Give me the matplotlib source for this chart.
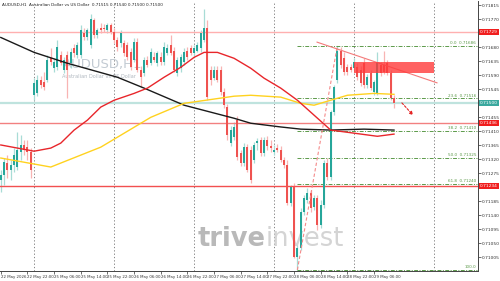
import numpy as np
import matplotlib.pyplot as plt
import matplotlib.transforms as mtransforms

# H1 candles, AUDUSD 22 May 14:00 -> 29 May 12:00
opens = [0.71253, 0.71269, 0.71308, 0.71285, 0.71301, 0.71295, 0.71343, 0.71366, 0.71359, 0.71343,
         0.71526, 0.71532, 0.71574, 0.71568, 0.71574, 0.71645, 0.71613, 0.71616, 0.71654, 0.71606,
         0.71654, 0.71629, 0.71677, 0.71654, 0.71654, 0.71728, 0.71712, 0.71687, 0.71767, 0.71719,
         0.71744, 0.71744, 0.71735, 0.71751, 0.71731, 0.71703, 0.71693, 0.71693, 0.71687, 0.71664,
         0.71638, 0.71696, 0.71606, 0.71597, 0.71638, 0.71629, 0.71648, 0.71629, 0.71648, 0.71632,
         0.71661, 0.71687, 0.71670, 0.71597, 0.71613, 0.71632, 0.71670, 0.71677, 0.71661, 0.71670,
         0.71677, 0.71703, 0.71744, 0.71606, 0.71581, 0.71606, 0.71606, 0.71536, 0.71488, 0.71372,
         0.71391, 0.71446, 0.71340, 0.71308, 0.71359, 0.71349, 0.71317, 0.71372, 0.71382, 0.71340,
         0.71382, 0.71362, 0.71343, 0.71356, 0.71349, 0.71317, 0.71301, 0.71179, 0.71231, 0.71006,
         0.71035, 0.71150, 0.71189, 0.71211, 0.71167, 0.71195, 0.71109, 0.71173, 0.71308, 0.71263,
         0.71471, 0.71574, 0.71670, 0.71645, 0.71616, 0.71616, 0.71613, 0.71616, 0.71606, 0.71629,
         0.71558, 0.71597, 0.71536, 0.71532, 0.71622, 0.71622, 0.71629, 0.71597, 0.71516]
highs = [0.71285, 0.71324, 0.71333, 0.71317, 0.71356, 0.71407, 0.71398, 0.71382, 0.71382, 0.71356,
         0.71581, 0.71590, 0.71587, 0.71600, 0.71654, 0.71677, 0.71645, 0.71703, 0.71670, 0.71648,
         0.71670, 0.71677, 0.71690, 0.71696, 0.71751, 0.71741, 0.71744, 0.71786, 0.71776, 0.71741,
         0.71760, 0.71754, 0.71757, 0.71760, 0.71741, 0.71712, 0.71735, 0.71703, 0.71696, 0.71677,
         0.71709, 0.71709, 0.71619, 0.71648, 0.71651, 0.71677, 0.71664, 0.71670, 0.71664, 0.71696,
         0.71690, 0.71719, 0.71680, 0.71648, 0.71658, 0.71677, 0.71680, 0.71687, 0.71687, 0.71696,
         0.71735, 0.71805, 0.71767, 0.71619, 0.71619, 0.71619, 0.71619, 0.71549, 0.71497, 0.71427,
         0.71439, 0.71459, 0.71349, 0.71372, 0.71369, 0.71362, 0.71375, 0.71388, 0.71391, 0.71391,
         0.71394, 0.71382, 0.71366, 0.71369, 0.71362, 0.71327, 0.71317, 0.71237, 0.71244, 0.71045,
         0.71163, 0.71205, 0.71228, 0.71221, 0.71205, 0.71205, 0.71189, 0.71317, 0.71324, 0.71478,
         0.71558, 0.71686, 0.71680, 0.71664, 0.71626, 0.71626, 0.71645, 0.71629, 0.71619, 0.71645,
         0.71593, 0.71606, 0.71574, 0.71664, 0.71632, 0.71670, 0.71638, 0.71606, 0.71526]
lows = [0.71215, 0.71237, 0.71260, 0.71253, 0.71279, 0.71285, 0.71317, 0.71333, 0.71317, 0.71260,
        0.71510, 0.71523, 0.71549, 0.71542, 0.71568, 0.71622, 0.71600, 0.71606, 0.71622, 0.71597,
        0.71516, 0.71613, 0.71648, 0.71645, 0.71645, 0.71703, 0.71703, 0.71677, 0.71709, 0.71709,
        0.71728, 0.71731, 0.71725, 0.71722, 0.71693, 0.71670, 0.71680, 0.71651, 0.71638, 0.71606,
        0.71632, 0.71600, 0.71552, 0.71587, 0.71616, 0.71622, 0.71632, 0.71619, 0.71622, 0.71622,
        0.71654, 0.71654, 0.71600, 0.71587, 0.71600, 0.71622, 0.71638, 0.71654, 0.71651, 0.71664,
        0.71664, 0.71696, 0.71510, 0.71558, 0.71574, 0.71568, 0.71526, 0.71484, 0.71382, 0.71362,
        0.71382, 0.71317, 0.71298, 0.71298, 0.71279, 0.71244, 0.71308, 0.71349, 0.71330, 0.71330,
        0.71349, 0.71343, 0.71333, 0.71343, 0.71311, 0.71292, 0.71173, 0.71170, 0.71003, 0.70964,
        0.71028, 0.71141, 0.71179, 0.71150, 0.71157, 0.71093, 0.71099, 0.71163, 0.71253, 0.71253,
        0.71462, 0.71565, 0.71613, 0.71590, 0.71590, 0.71600, 0.71606, 0.71574, 0.71555, 0.71549,
        0.71549, 0.71542, 0.71526, 0.71526, 0.71587, 0.71593, 0.71590, 0.71510, 0.71484]
closes = [0.71269, 0.71311, 0.71285, 0.71301, 0.71333, 0.71349, 0.71366, 0.71349, 0.71343, 0.71285,
          0.71565, 0.71574, 0.71558, 0.71552, 0.71638, 0.71632, 0.71632, 0.71680, 0.71629, 0.71638,
          0.71606, 0.71664, 0.71661, 0.71687, 0.71735, 0.71712, 0.71735, 0.71773, 0.71719, 0.71735,
          0.71735, 0.71738, 0.71751, 0.71731, 0.71703, 0.71680, 0.71728, 0.71661, 0.71648, 0.71616,
          0.71696, 0.71606, 0.71584, 0.71638, 0.71622, 0.71664, 0.71638, 0.71661, 0.71632, 0.71680,
          0.71677, 0.71661, 0.71606, 0.71638, 0.71648, 0.71664, 0.71648, 0.71661, 0.71677, 0.71687,
          0.71725, 0.71744, 0.71520, 0.71574, 0.71606, 0.71574, 0.71536, 0.71494, 0.71398, 0.71414,
          0.71423, 0.71327, 0.71308, 0.71359, 0.71285, 0.71253, 0.71366, 0.71378, 0.71340, 0.71382,
          0.71362, 0.71356, 0.71349, 0.71349, 0.71317, 0.71301, 0.71179, 0.71231, 0.71006, 0.71035,
          0.71150, 0.71195, 0.71211, 0.71163, 0.71195, 0.71109, 0.71173, 0.71308, 0.71263, 0.71471,
          0.71552, 0.71670, 0.71622, 0.71600, 0.71600, 0.71606, 0.71632, 0.71584, 0.71565, 0.71558,
          0.71584, 0.71549, 0.71568, 0.71629, 0.71597, 0.71600, 0.71597, 0.71516, 0.71500]

# moving averages (bar index, price)
ma_red_idx = [0, 10, 15, 18, 22, 26, 30, 34, 40, 44, 49, 54, 58, 61, 65, 70, 75, 79, 84, 89, 94, 99, 106, 113, 118]
ma_red = [0.71366, 0.71346, 0.71356, 0.71372, 0.71414, 0.71446, 0.71488, 0.71510, 0.71532, 0.71549,
          0.71584, 0.71616, 0.71648, 0.71664, 0.71664, 0.71645, 0.71613, 0.71581, 0.71549, 0.71510,
          0.71462, 0.71414, 0.71404, 0.71394, 0.71401]
ma_yel_idx = [0, 15, 30, 45, 55, 70, 75, 84, 90, 94, 99, 104, 112, 118]
ma_yel = [0.71324, 0.71295, 0.71359, 0.71455, 0.71500, 0.71523, 0.71526, 0.71520, 0.71500, 0.71494,
          0.71510, 0.71526, 0.71532, 0.71529]
ma_blk_idx = [0, 10, 20, 35, 43, 55, 70, 75, 84, 90, 99, 109, 118]
ma_blk = [0.71712, 0.71664, 0.71629, 0.71584, 0.71549, 0.71494, 0.71452, 0.71436, 0.71424, 0.71417,
          0.71414, 0.71417, 0.71414]

# horizontal levels
red_levels = [0.71729, 0.71436, 0.71234]
red_level_colors = ['#ffb0b0', '#f28080', '#f25050']
teal_level = 0.71500

# fibonacci from bar 89 low to bar 101 high
fib_low, fib_high = 0.70964, 0.71686
fib_ratios = [0.0, 23.6, 38.2, 50.0, 61.8, 100.0]

# trend line, zone and arrow
trend_idx = [94.9, 130.9]
trend_px = [0.71697, 0.71566]
zone_idx = (106.1, 130.0)
zone_px = (0.71597, 0.71632)
arrow_idx = (119.8, 124.3)
arrow_px = (0.71508, 0.71455)

time_ticks = [0, 8, 16, 24, 32, 40, 48, 56, 64, 72, 80, 88, 96, 104, 112]
time_labels = ['22 May 2026', '22 May 22:00', '25 May 06:00', '25 May 14:00', '25 May 22:00',
               '26 May 06:00', '26 May 14:00', '26 May 22:00', '27 May 06:00', '27 May 14:00',
               '27 May 22:00', '28 May 06:00', '28 May 14:00', '28 May 22:00', '29 May 06:00']
day_starts = [10, 34, 58, 82, 106, 130]
# the tick labels hidden behind the coloured price boxes are left out
price_ticks = [0.71005, 0.71050, 0.71095, 0.71140, 0.71185, 0.71275, 0.71320, 0.71365,
               0.71410, 0.71455, 0.71545, 0.71590, 0.71635, 0.71680, 0.71770, 0.71815]

UP = '#26a69a'
DOWN = '#ef5350'

fig = plt.figure(figsize=(5, 2.81), dpi=100)
ax = fig.add_axes([0, 1 - 270.5 / 281, 478 / 500, 270 / 281])
ax.set_xlim(-0.24, 143.2)
ax.set_ylim(0.70962, 0.71831)

o = np.array(opens); h = np.array(highs); l = np.array(lows); c = np.array(closes)
x = np.arange(len(o))
up = c >= o
cols = np.where(up, UP, DOWN)
wick_cols = np.where(up, '#a8dcd6', '#f8b4b3')

for d in day_starts:
    ax.axvline(d, color='#707070', lw=0.6, ls=(0, (1.5, 2.5)), zorder=1)

ax.vlines(x, l, h, colors=wick_cols, lw=0.9, zorder=2)
body = np.maximum(np.abs(c - o), 0.000025)
ax.bar(x, body, bottom=np.minimum(o, c), width=0.62, color=cols, lw=0, zorder=3)

ax.plot(ma_blk_idx, ma_blk, color='#1a1a1a', lw=1.0, zorder=4)
ax.plot(ma_yel_idx, ma_yel, color='#ffd21f', lw=1.0, zorder=4)
ax.plot(ma_red_idx, ma_red, color='#e8262b', lw=1.0, zorder=4)

for lv, col in zip(red_levels, red_level_colors):
    ax.axhline(lv, color=col, lw=1.0, zorder=2)
ax.axhline(teal_level, color='#bfe3de', lw=1.6, zorder=2)

# fibonacci
fib_col = '#5c9a4a'
for r in fib_ratios:
    lv = fib_high - (fib_high - fib_low) * r / 100
    ax.plot([89, 142.9], [lv, lv], color=fib_col, lw=0.7, ls=(0, (4, 1.5, 1, 1.5)), zorder=2)
    txt = '%.1f' % r if r == 100.0 else '%.1f  %.5f' % (r, lv)
    ax.text(142.6, lv + 0.00003, txt, fontsize=3.0, color=fib_col, ha='right', va='bottom', zorder=6)
ax.plot([89, 101], [fib_low, fib_high], color='#f48a8a', lw=0.8, ls=(0, (3, 2)), zorder=5)

ax.plot(trend_idx, trend_px, color='#f47a7a', lw=0.8, zorder=5)
ax.add_patch(plt.Rectangle((zone_idx[0], zone_px[0]), zone_idx[1] - zone_idx[0], zone_px[1] - zone_px[0],
                           facecolor='#ff3b3b', alpha=0.8, lw=0, zorder=5))
ax.annotate('', xy=(arrow_idx[1], arrow_px[1]), xytext=(arrow_idx[0], arrow_px[0]),
            arrowprops=dict(arrowstyle='-|>', color='#e52424', lw=0.8, ls=(0, (2, 1.5)),
                            mutation_scale=5), zorder=6)

# watermark
ax.text(18.5, 0.71624, 'AUDUSD,H1', fontsize=9.5, color='#c3cbd3', ha='left', va='center', zorder=1)
ax.text(18.5, 0.71588, 'Australian Dollar vs US Dollar', fontsize=3.6, color='#b0b8c0', ha='left',
        va='center', zorder=1)
ax.text(0.555, 0.115, 'trive', transform=ax.transAxes, fontsize=18.5, color='#b9b9b9', ha='right',
        va='center', fontweight='bold', zorder=1)
ax.text(0.555, 0.115, 'invest', transform=ax.transAxes, fontsize=18.5, color='#d4d4d4', ha='left',
        va='center', zorder=1)

fig.text(0.004, 0.988, 'AUDUSD,H1  Australian Dollar vs US Dollar  0.71515 0.71540 0.71500 0.71500',
         fontsize=3.0, color='#222222', ha='left', va='top')

# axes styling
for s in ['top', 'left']:
    ax.spines[s].set_visible(False)
ax.spines['right'].set_color('#444444')
ax.spines['bottom'].set_color('#444444')
ax.spines['right'].set_linewidth(0.7)
ax.spines['bottom'].set_linewidth(0.7)
ax.yaxis.tick_right()
ax.set_yticks(price_ticks)
ax.set_yticklabels(['%.5f' % p for p in price_ticks])
ax.tick_params(axis='y', labelsize=3.2, length=2, width=0.5, pad=1, colors='#333333')
ax.set_xticks(time_ticks)
ax.set_xticklabels(time_labels, ha='left')
ax.tick_params(axis='x', labelsize=2.8, length=2, width=0.5, pad=1, colors='#333333')

tr = mtransforms.blended_transform_factory(ax.transAxes, ax.transData)
for lv in red_levels:
    ax.text(1.004, lv, '%.5f' % lv, transform=tr, fontsize=3.2, color='white', ha='left', va='center',
            bbox=dict(boxstyle='square,pad=0.2', fc='#f01e1e', ec='none'), clip_on=False, zorder=7)
ax.text(1.004, teal_level, '%.5f' % teal_level, transform=tr, fontsize=3.2, color='white', ha='left',
        va='center', bbox=dict(boxstyle='square,pad=0.2', fc='#3aa89e', ec='none'), clip_on=False, zorder=7)

plt.savefig('out.png', dpi=100)
